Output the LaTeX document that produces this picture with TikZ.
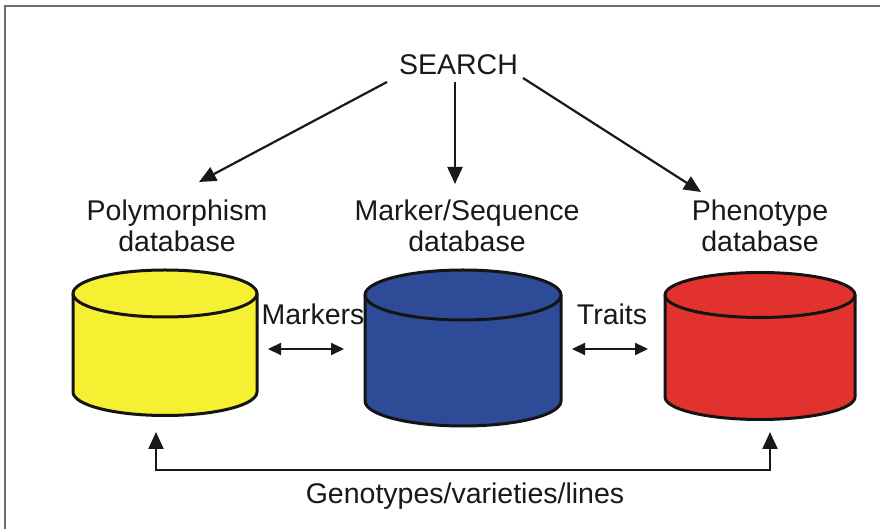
\documentclass[tikz,border=0pt]{standalone}
\usepackage{fontspec}
\setmainfont{Liberation Sans}
\usetikzlibrary{arrows.meta}
\definecolor{cylyellow}{RGB}{245,240,50}
\definecolor{cylblue}{RGB}{45,75,150}
\definecolor{cylred}{RGB}{225,50,45}
\definecolor{framegray}{RGB}{110,110,110}
\definecolor{txt}{RGB}{25,25,25}
\newcommand{\dbcyl}[6]{% cx, top yc, bottom yc, rx, ry, color
  \fill[#6] (#1-#4,#2) -- (#1-#4,#3) arc[start angle=180,end angle=360,x radius=#4,y radius=#5]
     -- (#1+#4,#2) arc[start angle=0,end angle=180,x radius=#4,y radius=#5] -- cycle;
  \draw[cylline] (#1-#4,#2) -- (#1-#4,#3) arc[start angle=180,end angle=360,x radius=#4,y radius=#5]
     -- (#1+#4,#2);
  \draw[cylline] (#1,#2) ellipse[x radius=#4,y radius=#5];
}
\begin{document}
\begin{tikzpicture}[x=1pt,y=1pt,
  lbl/.style={font=\fontsize{28.5}{31}\selectfont, text=txt, inner sep=0pt, align=center},
  cylline/.style={draw=black!92, line width=3pt, line join=round},
  arr/.style={draw=black!90, line width=2.2pt, -{Triangle[length=17pt,width=15pt]}},
  darr/.style={draw=black!90, line width=2.2pt, {Triangle[length=13pt,width=12pt]}-{Triangle[length=13pt,width=12pt]}},
  cylbox/.style={draw=none, inner sep=0pt}
]
\useasboundingbox (0,0) rectangle (880,529);
\fill[white] (0,0) rectangle (880,529);
\draw[framegray, line width=1.3pt] (5,0) -- (5,523) -- (880,523);

% cylinders
\dbcyl{165}{235.5}{137}{92}{23.5}{cylyellow}
\dbcyl{463}{234}{128}{98}{25}{cylblue}
\dbcyl{760}{234}{132}{95}{22.5}{cylred}
\node[cylbox, minimum width=184pt, minimum height=145pt] (poly) at (165,186) {};
\node[cylbox, minimum width=196pt, minimum height=156pt] (mark) at (463,181) {};
\node[cylbox, minimum width=190pt, minimum height=147pt] (phen) at (760,183) {};

% labels
\node[lbl, anchor=base] (search) at (458.5,454) {SEARCH};
\node[lbl, anchor=base] (lpoly) at (177,277) {Polymorphism\\database};
\node[lbl, anchor=base] (lmark) at (467,277) {Marker/Sequence\\database};
\node[lbl, anchor=base] (lphen) at (760,277) {Phenotype\\database};
\node[lbl, anchor=base] (markers) at (313,204) {Markers};
\node[lbl, anchor=base] (traits) at (612,204) {Traits};
\node[lbl, anchor=base] (geno) at (465,25) {Genotypes/varieties/lines};

% search arrows
\coordinate (s1) at (387,447);
\coordinate (s2) at (455,447);
\coordinate (s3) at (523,451);
\coordinate (e1) at (199,347);
\coordinate (e2) at (455,345);
\coordinate (e3) at (701,337);
\draw[arr] (s1) -- (e1);
\draw[arr] (s2) -- (e2);
\draw[arr] (s3) -- (e3);

% double arrows
\coordinate (m1) at (268,180);
\coordinate (m2) at (344,180);
\coordinate (t1) at (572,180);
\coordinate (t2) at (648,180);
\draw[darr] (m1) -- (m2);
\draw[darr] (t1) -- (t2);

% bottom bracket
\coordinate (b1) at (156,97);
\coordinate (b2) at (770,97);
\draw[arr, {Triangle[length=17pt,width=15pt]}-{Triangle[length=17pt,width=15pt]}, line join=miter]
  (b1) -- (156,59) -- (770,59) -- (b2);
\end{tikzpicture}
\end{document}
